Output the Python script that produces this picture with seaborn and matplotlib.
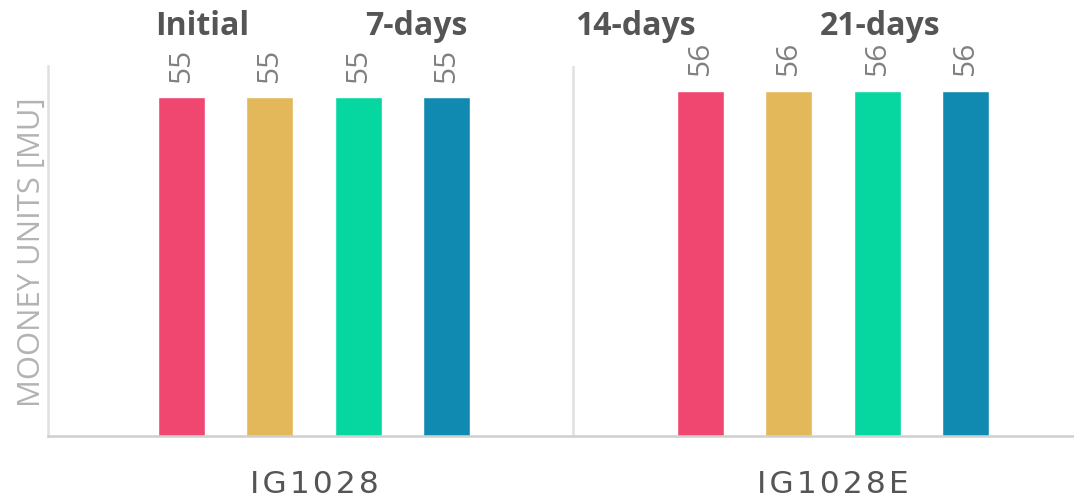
import pandas as pd
import matplotlib.pyplot as plt
import seaborn as sns

# chart data
compounds = ["IG1028", "IG1028E"]
series = ["Initial", "7-days", "14-days", "21-days"]
values = {
    "IG1028": [55, 55, 55, 55],
    "IG1028E": [56, 56, 56, 56],
}
colors = ["#EF476F", "#E3B85B", "#06D6A0", "#118AB2"]

rows = []
for c in compounds:
    for s, v in zip(series, values[c]):
        rows.append({"compound": c, "period": s, "mooney": v})
df = pd.DataFrame(rows)

sns.set_theme(style="white")
plt.rcParams["font.family"] = ["Open Sans", "DejaVu Sans"]

fig = plt.figure(figsize=(10.74, 5.02), dpi=100)
ax = fig.add_axes([48 / 1074, 65.5 / 502, 1044.5 / 1074, 369.5 / 502])

sns.barplot(data=df, x="compound", y="mooney", hue="period", hue_order=series,
            palette=colors, width=0.682, gap=0.47, saturation=1, ax=ax, legend=False)

ax.set_xlim(-0.5125, 1.5)
ax.set_ylim(0, 60)
ax.set_yticks([])
ax.set_xlabel("")
ax.set_ylabel("MOONEY UNITS [MU]", fontsize=22.3, color="#b3b3b3", labelpad=1)

# category boundary lines
ax.axvline(0.5, color="#e0e0e0", lw=1.8, zorder=0)
ax.spines["left"].set_color("#e0e0e0")
ax.spines["left"].set_linewidth(1.8)
for side in ["top", "right"]:
    ax.spines[side].set_visible(False)
ax.spines["bottom"].set_color("#cfcfcf")
ax.spines["bottom"].set_linewidth(1.8)

ax.set_xticks(range(len(compounds)))
ax.set_xticklabels(["\u200a".join(c) for c in compounds], family="DejaVu Sans",
                   fontsize=22.5, color="#555555")
ax.tick_params(axis="x", length=0, pad=24)

for cont in ax.containers:
    ax.bar_label(cont, rotation=90, padding=11, fontsize=21.5, color="#808080")

# series names along the top
name_x = [155, 365, 575, 820]
for s, xp in zip(series, name_x):
    fig.text(xp / 1074, 1 - 35 / 502, s, fontsize=23, fontweight="bold",
             color="#555555", ha="left", va="baseline")

fig.savefig("out.png", dpi=100)
